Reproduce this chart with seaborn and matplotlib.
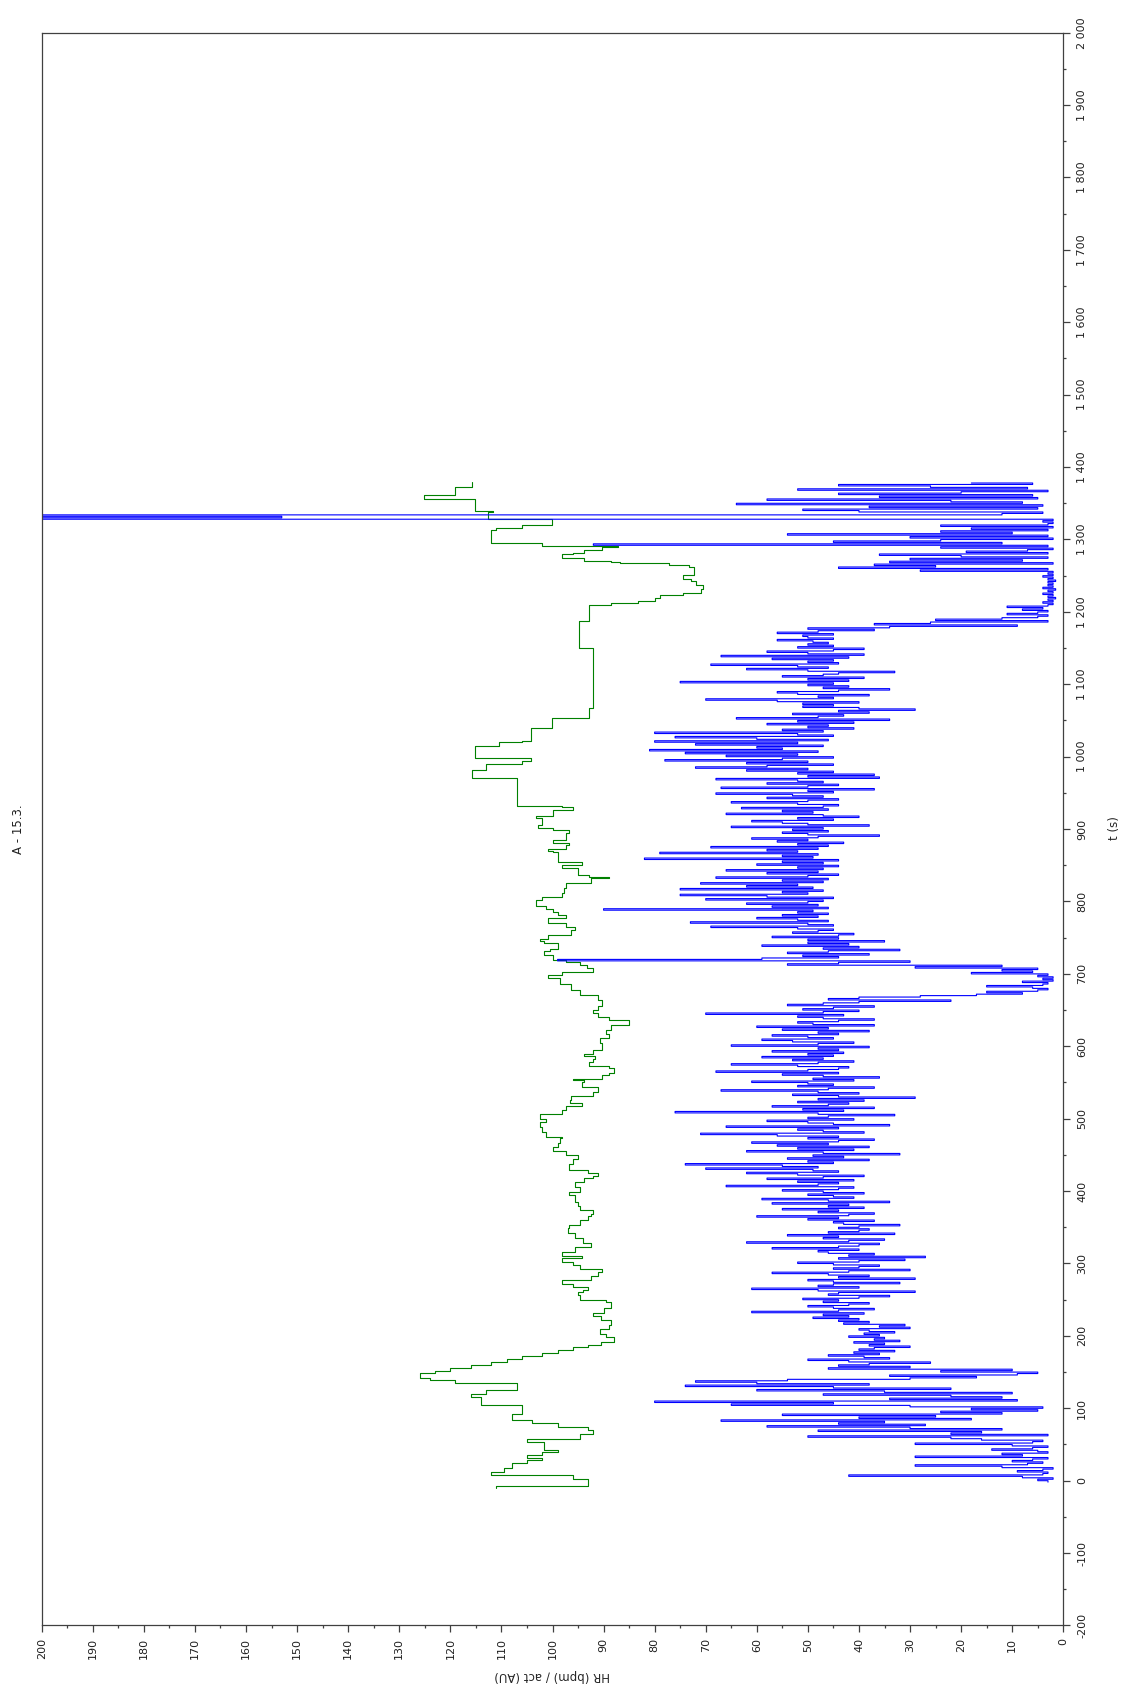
import numpy as np
import matplotlib
matplotlib.use('Agg')
import matplotlib.pyplot as plt
import seaborn as sns
from matplotlib.ticker import MultipleLocator, FuncFormatter

# %% Data
# activity trace (blue), one sample every 2 s from t = -2 s (one row = 60 s)
act_t0 = -2
act_dt = 2
act = [
    3, 5, 2, 8, 42, 4, 3, 9, 4, 2, 12, 29, 7, 4, 10, 6, 3, 29, 8, 12, 3, 5, 14, 6, 3, 10, 29, 6, 4, 16,
    22, 50, 3, 22, 16, 48, 12, 30, 58, 27, 44, 35, 67, 18, 40, 25, 55, 12, 24, 5, 18, 4, 30, 65, 45, 80, 9, 34, 12, 22,
    47, 10, 35, 60, 22, 45, 74, 38, 60, 72, 54, 30, 17, 34, 9, 5, 24, 10, 46, 30, 44, 38, 26, 42, 50, 34, 39, 46, 36, 41,
    33, 40, 37, 30, 38, 35, 41, 32, 37, 35, 42, 36, 39, 33, 38, 40, 30, 36, 31, 43, 38, 44, 40, 49, 42, 47, 39, 61, 44, 37,
    45, 50, 42, 38, 47, 44, 51, 40, 34, 46, 44, 29, 48, 61, 40, 48, 45, 32, 45, 50, 29, 44, 38, 46, 57, 42, 30, 45, 40, 36,
    45, 52, 40, 31, 44, 27, 42, 37, 46, 48, 40, 57, 44, 40, 36, 62, 42, 35, 47, 44, 54, 33, 46, 40, 38, 44, 40, 32, 43, 45,
    37, 50, 44, 60, 42, 37, 48, 44, 55, 39, 46, 42, 57, 34, 46, 59, 41, 45, 50, 39, 47, 55, 44, 41, 66, 48, 44, 52, 41, 58,
    47, 39, 52, 62, 44, 49, 70, 48, 55, 74, 45, 50, 38, 54, 43, 49, 32, 47, 62, 41, 52, 38, 56, 46, 61, 44, 37, 50, 44, 56,
    71, 39, 47, 52, 44, 66, 34, 45, 50, 58, 41, 50, 46, 33, 48, 76, 43, 51, 37, 57, 46, 42, 52, 39, 48, 29, 44, 53, 40, 48,
    67, 46, 37, 52, 45, 50, 61, 41, 49, 36, 47, 55, 44, 68, 50, 44, 42, 52, 65, 48, 41, 53, 47, 59, 45, 50, 43, 57, 44, 48,
    38, 65, 48, 41, 53, 59, 45, 50, 57, 44, 48, 38, 55, 46, 60, 37, 49, 52, 44, 37, 47, 52, 43, 70, 47, 40, 51, 45, 37, 54,
    47, 40, 22, 46, 40, 28, 17, 8, 15, 5, 3, 6, 15, 4, 3, 8, 2, 4, 2, 5, 3, 18, 6, 12, 5, 29, 12, 54, 44, 30,
    99, 59, 44, 51, 38, 54, 46, 32, 47, 40, 59, 42, 50, 35, 50, 44, 57, 44, 41, 53, 48, 45, 52, 69, 45, 50, 73, 46, 52, 60,
    48, 55, 46, 52, 49, 90, 46, 57, 48, 62, 50, 47, 70, 45, 58, 75, 50, 55, 47, 75, 49, 62, 52, 71, 47, 55, 46, 68, 50, 44,
    58, 48, 66, 47, 52, 44, 60, 47, 55, 44, 82, 49, 55, 48, 79, 52, 58, 48, 69, 46, 52, 43, 56, 50, 61, 48, 36, 50, 55, 46,
    53, 47, 65, 38, 50, 55, 61, 45, 52, 40, 47, 66, 49, 55, 46, 63, 47, 44, 52, 65, 50, 44, 58, 47, 53, 68, 45, 50, 37, 67,
    50, 44, 58, 47, 52, 68, 36, 50, 37, 52, 45, 62, 50, 72, 58, 45, 62, 50, 78, 55, 45, 66, 52, 74, 48, 81, 55, 60, 47, 72,
    52, 80, 46, 60, 76, 45, 52, 80, 47, 55, 41, 50, 46, 58, 41, 52, 34, 64, 48, 43, 53, 38, 44, 29, 40, 51, 45, 51, 40, 56,
    70, 45, 48, 38, 52, 56, 44, 34, 47, 42, 50, 45, 75, 42, 50, 39, 55, 47, 44, 33, 50, 62, 46, 52, 69, 44, 50, 45, 57, 42,
    67, 39, 50, 58, 45, 39, 52, 45, 50, 46, 49, 56, 45, 50, 51, 45, 56, 48, 37, 50, 34, 9, 37, 26, 3, 25, 12, 5, 3, 11,
    5, 3, 8, 4, 11, 3, 2, 4, 2, 3, 1.5, 3, 2, 4, 2, 3, 1.5, 4, 2, 3, 2, 3, 1.5, 3, 2, 4, 2, 3, 2, 28,
    3, 44, 25, 37, 2, 34, 8, 30, 3, 20, 36, 3, 19, 7, 2, 24, 3, 92, 12, 45, 24, 2, 30, 3, 54, 10, 24, 3, 18, 2,
    24, 3, 2, 4, 2, 230, 153, 230, 12, 4, 40, 51, 5, 38, 4, 64, 8, 22, 58, 5, 36, 6, 44, 20, 3, 52, 7, 26, 44, 6,
    18,
]

# heart rate (green), value holds from each time until the next one
hr_t = [
    -10, -7, 3, 8, 12, 18, 24, 28, 32, 36, 40, 43, 54, 58, 64, 70, 74, 80, 84, 92,
    104, 116, 120, 125, 135, 139, 142, 149, 152, 156, 160, 164, 168, 172, 176, 180, 184, 188, 192, 199,
    203, 210, 215, 222, 227, 232, 238, 247, 250, 256, 260, 264, 268, 272, 277, 283, 288, 293, 298, 302,
    307, 310, 316, 323, 328, 335, 342, 349, 353, 360, 365, 369, 374, 380, 385, 392, 395, 399, 405, 413,
    418, 421, 425, 429, 437, 445, 450, 455, 461, 466, 473, 475, 482, 488, 495, 500, 507, 512, 517, 522,
    526, 531, 537, 544, 551, 553, 555, 560, 563, 570, 573, 578, 582, 586, 590, 595, 604, 611, 617, 623,
    630, 636, 641, 646, 650, 655, 664, 671, 678, 686, 694, 698, 703, 708, 712, 716, 719, 726, 731, 735,
    742, 745, 748, 754, 761, 765, 770, 777, 781, 786, 790, 794, 802, 806, 812, 818, 825, 832, 834, 837,
    846, 850, 855, 868, 870, 873, 878, 881, 885, 894, 899, 901, 906, 915, 918, 926, 931, 932, 970, 982,
    990, 994, 998, 1015, 1020, 1022, 1040, 1053, 1067, 1150, 1187, 1209, 1212, 1215, 1219, 1223, 1226, 1232, 1237, 1243,
    1246, 1251, 1262, 1265, 1267, 1269, 1270, 1274, 1280, 1282, 1286, 1290, 1291, 1295, 1313, 1316, 1320, 1328, 1334, 1338,
    1339, 1356, 1361, 1372, 1379,
]
hr_v = [
    111, 93, 96, 112, 109.5, 108, 105, 102, 105, 102, 99, 101.6, 105, 94.6, 92, 93, 99, 104, 108, 106,
    114, 116, 113, 107, 119, 124, 126, 123, 120, 116, 112, 109, 106, 102, 99, 96, 93, 90.5, 88, 89.5,
    90.7, 89, 88.5, 90.5, 92, 90, 88.5, 89.5, 94.6, 95, 94, 93, 96, 98.2, 92.5, 91, 90.3, 94.6, 96, 98.2,
    94.2, 98.2, 95.5, 92.5, 94, 95.5, 97, 96.8, 94.6, 93, 92.5, 92, 94.6, 95, 95.5, 95.5, 96.8, 94.6, 95.5, 93.8,
    92, 91, 93, 96.8, 96, 95.1, 97.3, 99.9, 99, 98.6, 98.2, 101.2, 102, 102.5, 101.2, 102.5, 98.2, 97.3, 94.2, 96.5,
    96.4, 92, 91, 94.2, 93.8, 96, 90.3, 89, 88, 89, 92.9, 92, 91.6, 93.8, 92, 90.3, 90.7, 89, 89.5, 88.5,
    85, 89, 91, 92, 91, 90.3, 91.1, 94.6, 96.4, 98.5, 100.8, 98.2, 92, 93.3, 94.6, 97.3, 99.9, 101.7, 100.5, 99,
    101.7, 102.5, 100.8, 96.4, 95.5, 97.3, 100.8, 97.3, 99, 100, 101.2, 103.2, 102, 98.2, 97.8, 97.3, 92.5, 89, 92.9, 95.1,
    98.2, 94.2, 99, 99.9, 100.8, 97.3, 96.8, 99.9, 97.3, 96.8, 99.9, 102.9, 102, 103.2, 99.9, 96, 98.2, 106.9, 115.8, 113,
    106, 104.3, 115.2, 110.4, 106, 104.3, 100.1, 92.9, 92, 94.8, 92.9, 88.5, 83.3, 80, 78.9, 74.5, 71, 70.6, 71.9, 72.8,
    74.5, 72.3, 73.2, 77.2, 86.8, 88.5, 93.8, 98.2, 96, 93.8, 90.3, 87.2, 102.1, 112.1, 111.1, 106, 100.1, 112.6, 112.6, 111.7,
    115.2, 125.1, 119.1, 115.8, 115.8,
]

title = 'A - 15.3.'
t_label = 't (s)'
value_label = 'HR (bpm) / act (AU)'

act_t = act_t0 + act_dt * np.arange(len(act))

# %% Plot (page is turned a quarter turn: time runs upward, values run right-to-left)
sns.set_style('ticks')
plt.rcParams['font.family'] = ['DejaVu Sans']

fig = plt.figure(figsize=(11.21, 16.87), dpi=100)
ax = fig.add_axes([0.0372, 0.03646, 0.91133, 0.94416])

sns.lineplot(x=hr_v, y=hr_t, orient='y', estimator=None, sort=False,
             drawstyle='steps-pre', color='#008000', linewidth=0.8, ax=ax)
sns.lineplot(x=act, y=act_t, orient='y', estimator=None, sort=False,
             drawstyle='steps-pre', color='#0000ff', linewidth=0.8, ax=ax)

ax.set_xlim(200, 0)
ax.set_ylim(-200, 2000)

ax.yaxis.tick_right()
ax.xaxis.set_major_locator(MultipleLocator(10))
ax.xaxis.set_minor_locator(MultipleLocator(5))
ax.yaxis.set_major_locator(MultipleLocator(100))
ax.yaxis.set_minor_locator(MultipleLocator(50))
ax.yaxis.set_major_formatter(FuncFormatter(lambda v, p: f'{int(round(v)):,}'.replace(',', ' ')))
ax.xaxis.set_major_formatter(FuncFormatter(lambda v, p: f'{int(round(v))}'))

for s in ax.spines.values():
    s.set_color('#404040')
    s.set_linewidth(0.9)

ax.tick_params(which='major', length=5, width=0.9, color='#404040', labelsize=8, labelcolor='#202020')
ax.tick_params(which='minor', length=2.5, width=0.9, color='#404040')
ax.tick_params(axis='x', labelrotation=90, pad=4)
ax.tick_params(axis='y', labelrotation=90, pad=5, left=False, right=True, which='both')
plt.setp(ax.get_yticklabels(), va='center')

ax.set_xlabel(value_label, rotation=180, fontsize=8.5, ha='center', va='center')
ax.xaxis.set_label_coords(0.4995, -0.0311)
ax.set_ylabel(t_label, rotation=90, fontsize=8.5, ha='center', va='center')
ax.yaxis.set_label_position('right')
ax.yaxis.set_label_coords(1.0438, 0.5007)

ax.text(-0.0232, 0.5, title, transform=ax.transAxes, rotation=90,
        ha='center', va='center', fontsize=8.5, color='#202020')

fig.savefig('out.png', dpi=100, facecolor='white')
